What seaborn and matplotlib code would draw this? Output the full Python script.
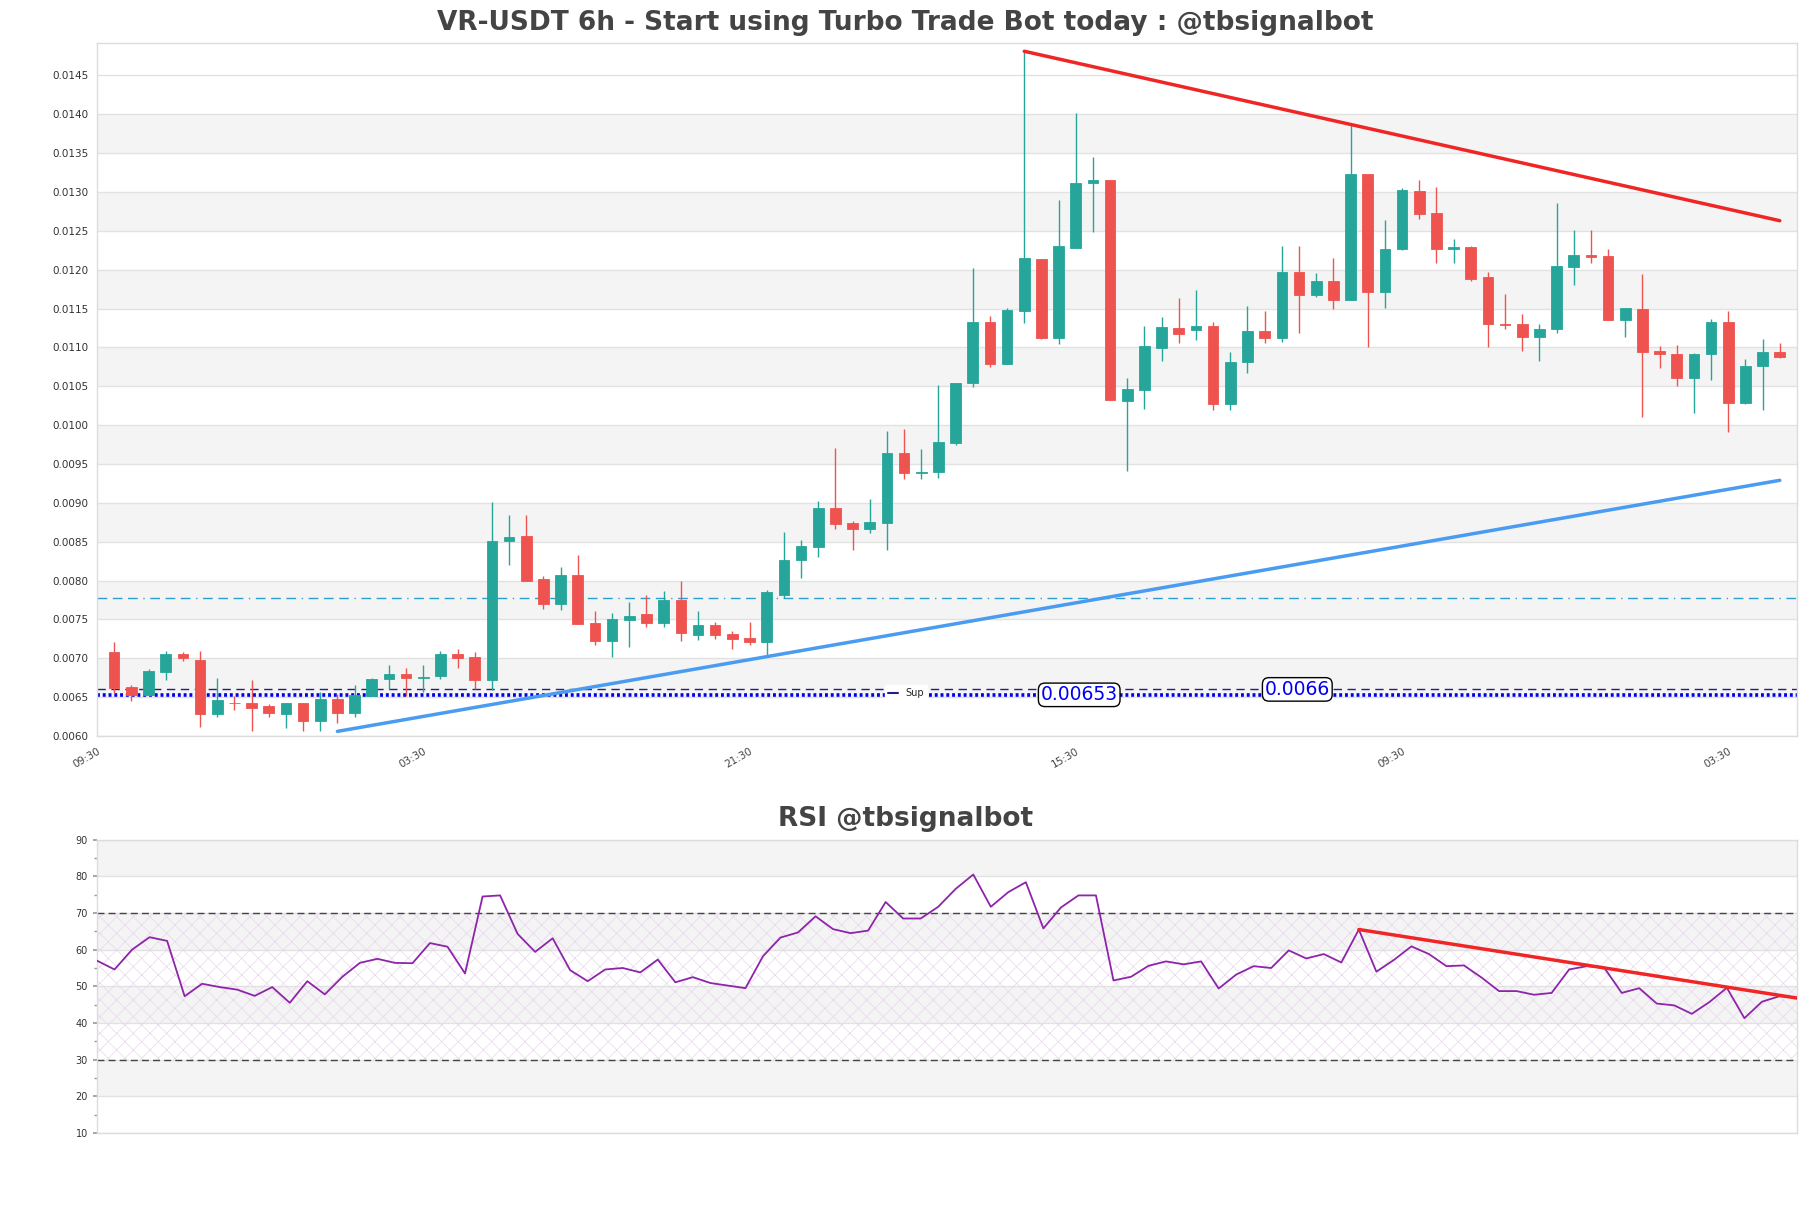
import numpy as np
import pandas as pd
import matplotlib
matplotlib.use("Agg")
import matplotlib.pyplot as plt
import seaborn as sns
from matplotlib.lines import Line2D
from matplotlib.ticker import MultipleLocator, FormatStrFormatter

# ---------------- data ----------------
opens = [0.00708, 0.00663, 0.00653, 0.00683, 0.00705, 0.00698, 0.00628, 0.00643, 0.00642, 0.00638,
         0.00628, 0.00642, 0.00619, 0.00648, 0.00629, 0.00652, 0.00673, 0.00680, 0.00675, 0.00677,
         0.00705, 0.00702, 0.00672, 0.00851, 0.00857, 0.00802, 0.00770, 0.00807, 0.00745, 0.00722,
         0.00749, 0.00757, 0.00746, 0.00775, 0.00730, 0.00743, 0.00731, 0.00726, 0.00721, 0.00781,
         0.00827, 0.00843, 0.00893, 0.00874, 0.00866, 0.00874, 0.00964, 0.00939, 0.00940, 0.00977,
         0.01054, 0.01133, 0.01079, 0.01147, 0.01214, 0.01112, 0.01228, 0.01311, 0.01316, 0.01031,
         0.01045, 0.01099, 0.01125, 0.01123, 0.01128, 0.01027, 0.01081, 0.01121, 0.01112, 0.01197,
         0.01168, 0.01185, 0.01161, 0.01323, 0.01171, 0.01226, 0.01301, 0.01273, 0.01226, 0.01229,
         0.01190, 0.01130, 0.01130, 0.01114, 0.01124, 0.01204, 0.01219, 0.01217, 0.01135, 0.01150,
         0.01096, 0.01092, 0.01061, 0.01091, 0.01133, 0.01028, 0.01076, 0.01094]
highs = [0.00721, 0.00666, 0.00686, 0.00709, 0.00708, 0.00709, 0.00675, 0.00652, 0.00672, 0.00641,
         0.00642, 0.00642, 0.00657, 0.00654, 0.00666, 0.00675, 0.00692, 0.00687, 0.00691, 0.00710,
         0.00712, 0.00708, 0.00901, 0.00884, 0.00884, 0.00806, 0.00818, 0.00833, 0.00761, 0.00758,
         0.00773, 0.00782, 0.00786, 0.00800, 0.00761, 0.00747, 0.00735, 0.00747, 0.00788, 0.00862,
         0.00852, 0.00902, 0.00970, 0.00877, 0.00905, 0.00992, 0.00995, 0.00969, 0.01052, 0.01054,
         0.01202, 0.01141, 0.01151, 0.01481, 0.01214, 0.01290, 0.01401, 0.01345, 0.01316, 0.01061,
         0.01128, 0.01139, 0.01163, 0.01174, 0.01133, 0.01094, 0.01153, 0.01147, 0.01231, 0.01231,
         0.01196, 0.01215, 0.01386, 0.01323, 0.01264, 0.01305, 0.01316, 0.01306, 0.01239, 0.01231,
         0.01197, 0.01169, 0.01143, 0.01130, 0.01286, 0.01251, 0.01251, 0.01226, 0.01151, 0.01195,
         0.01102, 0.01103, 0.01093, 0.01137, 0.01147, 0.01085, 0.01111, 0.01106]
lows = [0.00656, 0.00645, 0.00652, 0.00672, 0.00696, 0.00611, 0.00625, 0.00633, 0.00606, 0.00624,
        0.00610, 0.00606, 0.00606, 0.00617, 0.00625, 0.00652, 0.00660, 0.00652, 0.00657, 0.00674,
        0.00688, 0.00660, 0.00659, 0.00820, 0.00800, 0.00764, 0.00762, 0.00744, 0.00717, 0.00702,
        0.00715, 0.00740, 0.00740, 0.00722, 0.00724, 0.00725, 0.00712, 0.00717, 0.00704, 0.00778,
        0.00803, 0.00830, 0.00867, 0.00839, 0.00861, 0.00839, 0.00931, 0.00931, 0.00932, 0.00974,
        0.01049, 0.01075, 0.01079, 0.01132, 0.01111, 0.01104, 0.01228, 0.01249, 0.01032, 0.00941,
        0.01021, 0.01082, 0.01106, 0.01110, 0.01019, 0.01020, 0.01067, 0.01106, 0.01107, 0.01119,
        0.01165, 0.01150, 0.01161, 0.01101, 0.01151, 0.01225, 0.01265, 0.01209, 0.01208, 0.01186,
        0.01100, 0.01124, 0.01095, 0.01082, 0.01118, 0.01180, 0.01208, 0.01135, 0.01113, 0.01010,
        0.01074, 0.01050, 0.01016, 0.01058, 0.00991, 0.01027, 0.01020, 0.01086]
closes = [0.00662, 0.00653, 0.00684, 0.00705, 0.00700, 0.00628, 0.00647, 0.00642, 0.00636, 0.00630,
          0.00642, 0.00619, 0.00648, 0.00629, 0.00653, 0.00674, 0.00680, 0.00675, 0.00676, 0.00705,
          0.00701, 0.00672, 0.00851, 0.00856, 0.00800, 0.00770, 0.00807, 0.00744, 0.00722, 0.00750,
          0.00754, 0.00746, 0.00775, 0.00732, 0.00743, 0.00730, 0.00725, 0.00721, 0.00785, 0.00827,
          0.00844, 0.00893, 0.00873, 0.00866, 0.00875, 0.00964, 0.00939, 0.00940, 0.00978, 0.01054,
          0.01133, 0.01079, 0.01148, 0.01215, 0.01112, 0.01231, 0.01312, 0.01316, 0.01032, 0.01047,
          0.01102, 0.01126, 0.01117, 0.01128, 0.01027, 0.01081, 0.01121, 0.01112, 0.01197, 0.01168,
          0.01185, 0.01161, 0.01323, 0.01171, 0.01227, 0.01303, 0.01272, 0.01226, 0.01229, 0.01188,
          0.01130, 0.01129, 0.01114, 0.01124, 0.01205, 0.01219, 0.01216, 0.01135, 0.01151, 0.01094,
          0.01091, 0.01061, 0.01091, 0.01133, 0.01028, 0.01076, 0.01094, 0.01088]
rsi = [57.0, 54.6, 60.0, 63.4, 62.4, 47.3, 50.7, 49.8, 49.1, 47.4,
       49.8, 45.5, 51.4, 47.8, 52.6, 56.4, 57.5, 56.4, 56.3, 61.8,
       60.8, 53.5, 74.5, 74.8, 64.3, 59.4, 63.1, 54.4, 51.4, 54.6,
       55.0, 53.8, 57.3, 51.1, 52.5, 50.9, 50.2, 49.5, 58.2, 63.3,
       64.7, 69.1, 65.6, 64.5, 65.2, 73.0, 68.5, 68.5, 71.7, 76.6,
       80.5, 71.7, 75.7, 78.4, 65.8, 71.5, 74.8, 74.8, 51.6, 52.6,
       55.6, 56.8, 56.0, 56.8, 49.4, 53.2, 55.5, 55.0, 59.8, 57.6,
       58.8, 56.5, 65.5, 54.0, 57.2, 60.9, 58.8, 55.5, 55.7, 52.4,
       48.7, 48.7, 47.7, 48.2, 54.6, 55.5, 55.1, 48.2, 49.5, 45.3,
       44.8, 42.5, 45.7, 49.6, 41.3, 45.8, 47.3, 46.9]

time_tick_idx = [-1, 18, 37, 56, 75, 94]
time_tick_labels = ["09:30", "03:30", "21:30", "15:30", "09:30", "03:30"]

resistance_x = [53, 97]
resistance_y = [0.01481, 0.01263]
support_x = [13, 97]
support_y = [0.00606, 0.00929]
rsi_trend_x = [72, 97]
rsi_trend_y = [65.5, 46.8]

level_mid = 0.00778
level_sup_a = 0.00660
level_sup_b = 0.00653
label_sup_a = "0.0066"
label_sup_b = "0.00653"

title_main = "VR-USDT 6h - Start using Turbo Trade Bot today : @tbsignalbot"
title_rsi = "RSI @tbsignalbot"

# ---------------- style ----------------
sns.set_theme(style="white")
plt.rcParams["font.family"] = ["DejaVu Sans"]
plt.rcParams["hatch.linewidth"] = 0.5

df = pd.DataFrame({"open": opens, "high": highs, "low": lows, "close": closes, "rsi": rsi})
df["idx"] = np.arange(len(df))
up = df["close"] >= df["open"]
GREEN, RED = "#26a69a", "#ef5350"
df["col"] = np.where(up, GREEN, RED)

fig = plt.figure(figsize=(18.11, 12.08), dpi=100)
ax1 = fig.add_axes([0.05356, 0.3907, 0.9387, 0.5733])
ax2 = fig.add_axes([0.05356, 0.0621, 0.9387, 0.2428])

# ---------------- main price panel ----------------
ylo, yhi = 0.0060, 0.01491
ax1.set_xlim(-1, len(df))
ax1.set_ylim(ylo, yhi)
pticks = np.round(np.arange(0.0060, 0.01451, 0.0005), 4)
for i in range(1, len(pticks) - 1, 2):
    ax1.axhspan(pticks[i], pticks[i + 1], color="#f4f4f4", zorder=0, lw=0)
ax1.set_yticks(pticks)
ax1.yaxis.set_major_formatter(FormatStrFormatter("%.4f"))
ax1.yaxis.grid(True, color="#e2e2e2", lw=1)
ax1.set_axisbelow(True)

ax1.vlines(df["idx"], df["low"], df["high"], colors=df["col"], lw=1.0, zorder=3)
body_lo = np.minimum(df["open"], df["close"])
body_h = np.abs(df["close"] - df["open"])
ax1.bar(df["idx"], body_h, bottom=body_lo, width=0.62, color=df["col"],
        edgecolor=df["col"], linewidth=0.6, zorder=4)

# horizontal levels
ax1.axhline(level_mid, color="#2a9fd0", lw=1.0, dashes=(7, 4, 7, 4, 7, 4, 1, 4), zorder=2)
ax1.axhline(level_sup_a, color="#20208c", lw=1.0, dashes=(6, 4), zorder=2)
ax1.axhline(level_sup_b, color="#0000ee", lw=2.6, dashes=(0.8, 0.8), zorder=2)

# trend lines
sns.lineplot(x=resistance_x, y=resistance_y, ax=ax1, color="#f02626", lw=2.5, zorder=5)
sns.lineplot(x=support_x, y=support_y, ax=ax1, color="#4a9cf0", lw=2.5, zorder=5)

box = dict(boxstyle="round,pad=0.12,rounding_size=0.35", fc="white", ec="black", lw=1.0)
ax1.text(56.2, level_sup_b, label_sup_b, color="#0000ee", fontsize=13.5,
         ha="center", va="center", bbox=box, zorder=6)
ax1.text(68.9, level_sup_a, label_sup_a, color="#0000ee", fontsize=13.5,
         ha="center", va="center", bbox=box, zorder=6)

leg = ax1.legend(handles=[Line2D([0], [0], color="#20208c", lw=1.5)], labels=["Sup"],
                 loc="center", bbox_to_anchor=(0.476, 0.062), fontsize=7, frameon=True,
                 framealpha=1, facecolor="white", edgecolor="white", handlelength=1.0,
                 borderpad=0.3, fancybox=False)
leg.set_zorder(7)

ax1.set_xticks(time_tick_idx)
ax1.set_xticklabels(time_tick_labels, rotation=30, ha="right", rotation_mode="anchor")
ax1.tick_params(axis="x", length=3, color="#cccccc", labelsize=7.5, labelcolor="#444444", pad=4)
ax1.tick_params(axis="y", length=0, labelsize=7.5, labelcolor="#333333", pad=6)
ax1.set_xlabel("")
ax1.set_ylabel("")
for s in ax1.spines.values():
    s.set_color("#dcdcdc")
    s.set_linewidth(1)

# ---------------- RSI panel ----------------
ax2.set_xlim(0, len(df) - 1)
ax2.set_ylim(10, 90)
rticks = np.arange(10, 91, 10)
for i in range(1, len(rticks) - 1, 2):
    ax2.axhspan(rticks[i], rticks[i + 1], color="#f4f4f4", zorder=0, lw=0)
ax2.fill_between([0, len(df) - 1], 30, 70, facecolor="none", hatch="xx",
                 edgecolor="#e8d6ec", linewidth=0, zorder=1)
ax2.yaxis.grid(True, color="#e2e2e2", lw=1)
ax2.set_axisbelow(True)
ax2.set_yticks(rticks)
ax2.yaxis.set_minor_locator(MultipleLocator(5))
ax2.axhline(70, color="#444444", lw=1.0, dashes=(5, 3), zorder=2)
ax2.axhline(30, color="#444444", lw=1.0, dashes=(5, 3), zorder=2)
sns.lineplot(data=df, x="idx", y="rsi", ax=ax2, color="#8e24aa", lw=1.3, zorder=4)
sns.lineplot(x=rsi_trend_x, y=rsi_trend_y, ax=ax2, color="#f02626", lw=2.5, zorder=5)
ax2.set_xticks([])
ax2.set_xlabel("")
ax2.set_ylabel("")
ax2.tick_params(axis="y", which="major", length=3, color="#999999", labelsize=7,
                labelcolor="#333333", left=True)
ax2.tick_params(axis="y", which="minor", length=2, color="#999999", left=True)
for s in ax2.spines.values():
    s.set_color("#dcdcdc")
    s.set_linewidth(1)

fig.text(0.5, 0.981, title_main, ha="center", va="center", fontsize=19,
         fontweight="bold", color="#444444")
fig.text(0.5, 0.322, title_rsi, ha="center", va="center", fontsize=19,
         fontweight="bold", color="#444444")

fig.savefig("out.png", dpi=100)
